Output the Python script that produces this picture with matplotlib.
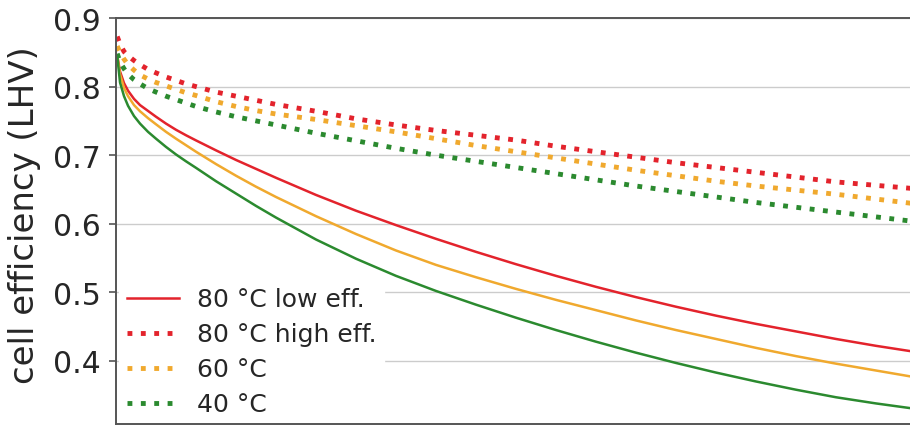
import matplotlib
matplotlib.use("Agg")
import matplotlib.pyplot as plt

# current density (A/cm²)
current = [0.003, 0.01, 0.02, 0.03, 0.045, 0.06, 0.08, 0.10, 0.125, 0.15, 0.175,
           0.20, 0.25, 0.30, 0.35, 0.40, 0.50, 0.60, 0.70, 0.80, 0.90, 1.00,
           1.10, 1.20, 1.30, 1.40, 1.50, 1.60, 1.70, 1.80, 1.90, 2.00]

# cell efficiency (LHV), low-efficiency cells
eff_80_low = [0.845, 0.822, 0.805, 0.794, 0.782, 0.773, 0.7645, 0.756, 0.746, 0.737, 0.729,
              0.7215, 0.707, 0.693, 0.680, 0.667, 0.642, 0.619, 0.598, 0.578, 0.559, 0.541,
              0.524, 0.508, 0.493, 0.479, 0.466, 0.454, 0.443, 0.432, 0.422, 0.413]
eff_60_low = [0.845, 0.818, 0.798, 0.786, 0.773, 0.764, 0.754, 0.745, 0.734, 0.724, 0.7145,
              0.705, 0.687, 0.670, 0.654, 0.639, 0.611, 0.585, 0.561, 0.540, 0.522, 0.505,
              0.489, 0.474, 0.459, 0.445, 0.432, 0.419, 0.407, 0.396, 0.386, 0.376]
eff_40_low = [0.845, 0.806, 0.786, 0.772, 0.757, 0.746, 0.734, 0.724, 0.712, 0.701, 0.691,
              0.6815, 0.662, 0.644, 0.626, 0.609, 0.577, 0.549, 0.524, 0.502, 0.482, 0.463,
              0.445, 0.428, 0.412, 0.397, 0.383, 0.370, 0.358, 0.347, 0.338, 0.330]

# cell efficiency (LHV), high-efficiency cells
eff_80_high = [0.873, 0.862, 0.851, 0.845, 0.838, 0.832, 0.825, 0.820, 0.814, 0.809, 0.804,
               0.800, 0.792, 0.786, 0.780, 0.774, 0.764, 0.753, 0.744, 0.736, 0.729, 0.722,
               0.713, 0.705, 0.697, 0.689, 0.682, 0.675, 0.668, 0.661, 0.656, 0.651]
eff_60_high = [0.859, 0.850, 0.840, 0.832, 0.824, 0.817, 0.811, 0.806, 0.801, 0.796, 0.791,
               0.787, 0.778, 0.771, 0.765, 0.760, 0.752, 0.743, 0.734, 0.724, 0.714, 0.705,
               0.696, 0.687, 0.678, 0.670, 0.662, 0.655, 0.649, 0.643, 0.636, 0.629]
eff_40_high = [0.848, 0.836, 0.826, 0.818, 0.810, 0.804, 0.797, 0.792, 0.786, 0.781, 0.776,
               0.771, 0.763, 0.756, 0.750, 0.744, 0.732, 0.721, 0.710, 0.700, 0.691, 0.682,
               0.673, 0.664, 0.655, 0.647, 0.639, 0.631, 0.624, 0.617, 0.610, 0.603]

yticks = [0.4, 0.5, 0.6, 0.7, 0.8, 0.9]

RED, ORANGE, GREEN = "#e3232c", "#f0a92e", "#2b8a2f"
DOTS = (0, (1, 1.75))

fig = plt.figure(figsize=(9.10, 4.27), dpi=100)
ax = fig.add_axes([0.1275, 0.0047, 0.879, 0.9508])

ax.plot(current, eff_80_low, color=RED, lw=1.8, label="80 °C low eff.")
ax.plot(current, eff_60_low, color=ORANGE, lw=1.8)
ax.plot(current, eff_40_low, color=GREEN, lw=1.8)
ax.plot(current, eff_80_high, color=RED, lw=3.5, linestyle=DOTS, label="80 °C high eff.")
ax.plot(current, eff_60_high, color=ORANGE, lw=3.5, linestyle=DOTS, label="60 °C")
ax.plot(current, eff_40_high, color=GREEN, lw=3.5, linestyle=DOTS, label="40 °C")

ax.set_xlim(0, 2.0)
ax.set_ylim(0.308, 0.9)
ax.set_yticks(yticks)
ax.set_yticklabels([f"{v:.1f}" for v in yticks])
ax.set_xticks([])
ax.grid(axis="y", color="#cccccc", lw=1.0)
ax.set_axisbelow(True)

for side in ("left", "top", "bottom", "right"):
    ax.spines[side].set_color("#555555")
    ax.spines[side].set_linewidth(1.4)

ax.tick_params(axis="y", labelsize=21.5, labelcolor="#262626", color="#555555",
               length=5, width=1.2, pad=6)
ax.set_ylabel("cell efficiency (LHV)", fontsize=24.5, color="#262626")
ax.yaxis.set_label_coords(-0.094, 0.517)

leg = ax.legend(loc="lower left", bbox_to_anchor=(0.004, 0.0), fontsize=18,
                frameon=True, framealpha=1.0, edgecolor="white", fancybox=False,
                handlelength=2.08, handletextpad=0.72, labelspacing=0.44,
                borderaxespad=0.0, borderpad=0.3)
leg.set_zorder(2.2)
for t in leg.get_texts():
    t.set_color("#262626")

fig.savefig("out.png", dpi=100)
